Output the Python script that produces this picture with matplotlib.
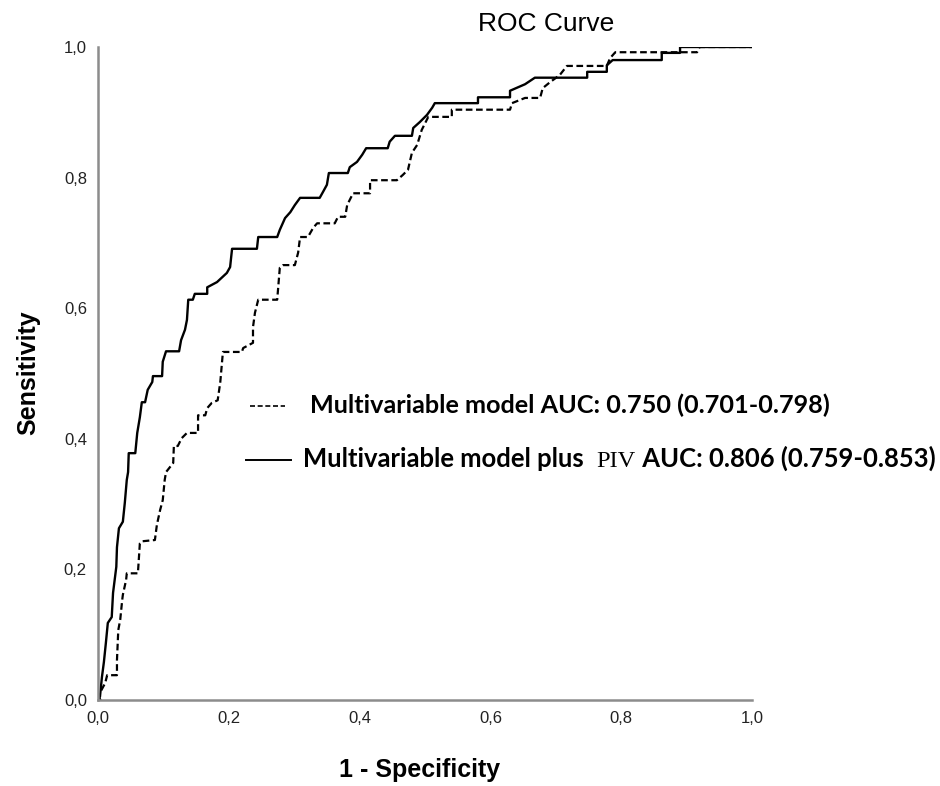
import matplotlib
matplotlib.use("Agg")
import matplotlib.pyplot as plt
import numpy as np

# ROC curve points (1 - specificity, sensitivity)
fpr_base = [0.000, 0.000, 0.003, 0.011, 0.014, 0.029, 0.029, 0.031, 0.034, 0.037, 0.038, 0.043,
            0.044, 0.061, 0.064, 0.067, 0.087, 0.090, 0.095, 0.099, 0.102, 0.104, 0.115, 0.116,
            0.122, 0.128, 0.136, 0.153, 0.153, 0.164, 0.167, 0.174, 0.183, 0.187, 0.191, 0.220,
            0.222, 0.237, 0.237, 0.240, 0.245, 0.274, 0.278, 0.283, 0.301, 0.306, 0.309, 0.321,
            0.329, 0.335, 0.362, 0.367, 0.378, 0.381, 0.390, 0.416, 0.416, 0.457, 0.466, 0.474,
            0.480, 0.488, 0.495, 0.505, 0.541, 0.541, 0.630, 0.633, 0.653, 0.676, 0.680, 0.691,
            0.706, 0.717, 0.778, 0.783, 0.791, 0.916, 0.920, 1.000]
tpr_base = [0.000, 0.003, 0.011, 0.026, 0.038, 0.038, 0.061, 0.107, 0.123, 0.153, 0.161, 0.184,
            0.194, 0.194, 0.240, 0.243, 0.245, 0.268, 0.291, 0.306, 0.337, 0.349, 0.363, 0.389,
            0.389, 0.401, 0.409, 0.409, 0.436, 0.436, 0.447, 0.455, 0.459, 0.487, 0.533, 0.533,
            0.539, 0.547, 0.571, 0.593, 0.613, 0.613, 0.662, 0.666, 0.666, 0.685, 0.709, 0.709,
            0.723, 0.730, 0.730, 0.740, 0.740, 0.758, 0.776, 0.776, 0.796, 0.796, 0.804, 0.812,
            0.838, 0.850, 0.873, 0.893, 0.893, 0.904, 0.904, 0.914, 0.922, 0.922, 0.937, 0.946,
            0.957, 0.971, 0.971, 0.983, 0.992, 0.992, 1.000, 1.000]

fpr_piv = [0.000, 0.003, 0.006, 0.009, 0.012, 0.015, 0.021, 0.023, 0.028, 0.029, 0.032, 0.038,
           0.041, 0.044, 0.046, 0.047, 0.057, 0.060, 0.064, 0.067, 0.072, 0.076, 0.083, 0.084,
           0.098, 0.099, 0.104, 0.124, 0.127, 0.133, 0.136, 0.138, 0.145, 0.148, 0.167, 0.167,
           0.182, 0.197, 0.202, 0.205, 0.243, 0.245, 0.274, 0.278, 0.286, 0.294, 0.301, 0.309,
           0.339, 0.344, 0.350, 0.353, 0.382, 0.385, 0.396, 0.404, 0.410, 0.443, 0.446, 0.454,
           0.480, 0.482, 0.492, 0.503, 0.511, 0.515, 0.581, 0.581, 0.630, 0.630, 0.653, 0.668,
           0.748, 0.748, 0.778, 0.778, 0.787, 0.862, 0.862, 0.890, 0.890, 1.000]
tpr_piv = [0.000, 0.005, 0.035, 0.058, 0.087, 0.118, 0.127, 0.164, 0.204, 0.234, 0.263, 0.273,
           0.302, 0.337, 0.349, 0.378, 0.378, 0.409, 0.433, 0.456, 0.456, 0.475, 0.487, 0.496,
           0.496, 0.518, 0.534, 0.534, 0.551, 0.567, 0.582, 0.613, 0.613, 0.622, 0.622, 0.632,
           0.640, 0.654, 0.663, 0.691, 0.691, 0.709, 0.709, 0.720, 0.738, 0.747, 0.758, 0.769,
           0.769, 0.778, 0.789, 0.807, 0.807, 0.816, 0.824, 0.835, 0.845, 0.845, 0.855, 0.864,
           0.864, 0.876, 0.885, 0.896, 0.907, 0.914, 0.914, 0.923, 0.923, 0.933, 0.943, 0.953,
           0.953, 0.962, 0.962, 0.972, 0.980, 0.980, 0.991, 0.991, 1.000, 1.000]

ticks = [0.0, 0.2, 0.4, 0.6, 0.8, 1.0]
tick_labels = ["0,0", "0,2", "0,4", "0,6", "0,8", "1,0"]
legend_1 = "Multivariable model AUC: 0.750 (0.701-0.798)"
legend_2 = ["Multivariable model plus  ", "PIV", " AUC: 0.806 (0.759-0.853)"]

W, H = 940, 786
fig = plt.figure(figsize=(W / 100, H / 100), dpi=100)
ax = fig.add_axes([98 / W, 1 - 700 / H, 654 / W, 653 / H])

ax.plot(fpr_base, tpr_base, color="black", lw=1.6, ls=(0, (3, 1.6)))
ax.plot(fpr_piv, tpr_piv, color="black", lw=1.7)
ax.plot([0], [0], "o", color="black", ms=3.5)

ax.set_xlim(0, 1)
ax.set_ylim(0, 1)
ax.set_xticks(ticks)
ax.set_xticklabels(tick_labels)
ax.set_yticks(ticks)
ax.set_yticklabels(tick_labels)
ax.tick_params(length=0, labelsize=12, colors="#222222", pad=8)
for lab in ax.get_xticklabels() + ax.get_yticklabels():
    lab.set_family("Liberation Sans")
for s in ["top", "right"]:
    ax.spines[s].set_visible(False)
for s in ["left", "bottom"]:
    ax.spines[s].set_color("#8c8c8c")
    ax.spines[s].set_linewidth(1.8)
ax.margins(0)

fig.text(546 / W, 1 - 24 / H, "ROC Curve", ha="center", va="center",
         fontsize=19, family="Liberation Sans")
fig.text(28 / W, 1 - 373 / H, "Sensitivity", ha="center", va="center", rotation=90,
         fontsize=18, fontweight="bold", family="Liberation Sans")
fig.text(420 / W, 1 - 770 / H, "1 - Specificity", ha="center", va="center",
         fontsize=18, fontweight="bold", family="Liberation Sans")

# legend drawn by hand, as in the picture
fig.add_artist(plt.Line2D([250 / W, 285 / W], [1 - 406 / H] * 2, color="black", lw=1.2,
                          ls=(0, (3, 1.6))))
fig.add_artist(plt.Line2D([246 / W, 291 / W], [1 - 460 / H] * 2, color="black", lw=1.4))

fig.canvas.draw()
r = fig.canvas.get_renderer()
t1 = fig.text(310 / W, 1 - 413 / H, legend_1, va="baseline", fontsize=18,
              fontweight="bold", family="Lato")
w = t1.get_window_extent(r).width
t1.set_fontsize(18 * 522 / w)

size = 18
parts = []
x = 303.0
for i, s in enumerate(legend_2):
    if i == 1:
        t = fig.text(x / W, 1 - 467 / H, s, va="baseline", fontsize=size * 0.95,
                     family="Liberation Serif")
    else:
        t = fig.text(x / W, 1 - 467 / H, s, va="baseline", fontsize=size,
                     fontweight="bold", family="Lato")
    parts.append(t)
    x += t.get_window_extent(r).width
scale = 634 / (x - 303.0)
x = 303.0
for t in parts:
    t.set_fontsize(t.get_fontsize() * scale)
    t.set_x(x / W)
    x += t.get_window_extent(r).width

fig.savefig("out.png", dpi=100)
